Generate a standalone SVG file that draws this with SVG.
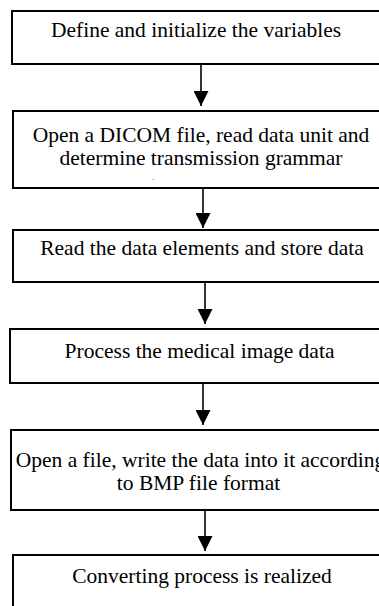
<svg xmlns="http://www.w3.org/2000/svg" width="379" height="606" viewBox="0 0 379 606">
<style>
.box{fill:#fff;stroke:#000;stroke-width:2}
.c{stroke:#000;stroke-width:1.6;fill:none;marker-end:url(#ah)}
</style>
<defs>
<marker id="ah" viewBox="0 0 15 15" refX="15" refY="7.5" markerWidth="15" markerHeight="15" markerUnits="userSpaceOnUse" orient="auto">
<path d="M0,0 L15,7.5 L0,15 Z" fill="#000"/>
</marker>
</defs>
<rect width="379" height="606" fill="#fff"/>
<g id="connectors">
<line class="c" x1="201" y1="64" x2="201" y2="106"/>
<line class="c" x1="203" y1="188" x2="203" y2="228"/>
<line class="c" x1="205" y1="282" x2="205" y2="324"/>
<line class="c" x1="203" y1="383" x2="203" y2="425"/>
<line class="c" x1="205" y1="510" x2="205" y2="551"/>
</g>
<g font-family="Liberation Serif, Times New Roman, serif" font-size="21.5" fill="#000" text-anchor="middle">
<g id="n1">
<rect class="box" x="12" y="11" width="380" height="53"/>
<text x="196" y="37">Define and initialize the variables</text>
</g>
<g id="n2">
<rect class="box" x="13" y="111" width="380" height="77"/>
<text x="201" y="142">Open a DICOM file, read data unit and</text>
<text x="201" y="165">determine transmission grammar</text>
<text x="153" y="180" font-size="8">.</text>
</g>
<g id="n3">
<rect class="box" x="13" y="230" width="380" height="52"/>
<text x="202" y="255">Read the data elements and store data</text>
</g>
<g id="n4">
<rect class="box" x="10" y="329" width="380" height="54"/>
<text x="199.5" y="358">Process the medical image data</text>
</g>
<g id="n5">
<rect class="box" x="11" y="430" width="380" height="80"/>
<text x="200.5" y="467">Open a file, write the data into it according</text>
<text x="198.5" y="490">to BMP file format</text>
</g>
<g id="n6">
<rect class="box" x="13" y="555" width="380" height="80"/>
<text x="202" y="583">Converting process is realized</text>
</g>
</g>
</svg>
